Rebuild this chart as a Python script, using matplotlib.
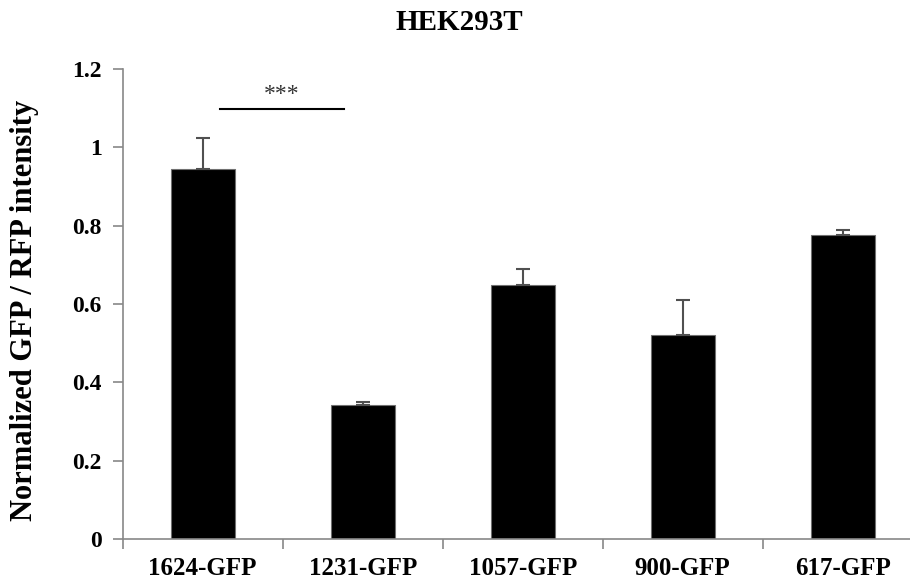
import numpy as np
import matplotlib.pyplot as plt

# ---------------------------------------------------------------------------
# Data
# ---------------------------------------------------------------------------
labels = ["1624-GFP", "1231-GFP", "1057-GFP", "900-GFP", "617-GFP"]
means = [0.944, 0.341, 0.648, 0.520, 0.775]
errors = [0.081, 0.010, 0.041, 0.090, 0.014]
y_ticks = [0, 0.2, 0.4, 0.6, 0.8, 1.0, 1.2]
y_tick_labels = ["0", "0.2", "0.4", "0.6", "0.8", "1", "1.2"]

# significance bracket between first two bars
sig_x = [0.11, 0.88]
sig_y = 1.097
sig_text = "***"

plt.rcParams["font.family"] = ["Liberation Serif", "DejaVu Serif"]

fig = plt.figure(figsize=(9.1, 5.8), dpi=100)
# axes runs past the right edge, as in the cropped original
ax = fig.add_axes([122.7 / 910, 41 / 580, 800 / 910, 470 / 580])

x = np.arange(len(labels))
ax.bar(x, means, width=0.4, color="black", edgecolor="#707070", linewidth=0.8,
       zorder=2)
ax.errorbar(x, means, yerr=[np.zeros(len(errors)), errors], fmt="none",
            ecolor="#505050", elinewidth=1.5, capsize=5, capthick=1.5, zorder=3)

ax.set_xlim(-0.5, len(labels) - 0.5)
ax.set_ylim(0, 1.2)
ax.set_yticks(y_ticks)
ax.set_yticklabels(y_tick_labels, fontsize=17, fontweight="bold")

# category ticks sit on the boundaries, labels at the centres
ax.set_xticks(np.arange(len(labels) + 1) - 0.5)
ax.set_xticklabels([])
ax.set_xticks(x, minor=True)
ax.set_xticklabels(labels, minor=True, fontsize=18, fontweight="bold")
ax.tick_params(axis="x", which="minor", length=0, pad=13)
ax.tick_params(axis="x", which="major", length=7, color="#888888", width=1.2,
               direction="out")
ax.tick_params(axis="y", length=7, color="#888888", width=1.2, direction="out",
               pad=8)

for side in ["top", "right"]:
    ax.spines[side].set_visible(False)
for side in ["left", "bottom"]:
    ax.spines[side].set_color("#888888")
    ax.spines[side].set_linewidth(1.2)

ax.plot(sig_x, [sig_y, sig_y], color="black", linewidth=1.5, zorder=3)
ax.text(np.mean(sig_x), sig_y + 0.012, sig_text, ha="center", va="bottom",
        fontsize=17, color="#333333")

ax.set_ylabel("Normalized GFP / RFP intensity", fontsize=22, fontweight="bold")
ax.yaxis.set_label_coords(-0.104, 0.487)

fig.text(0.505, 0.962, "HEK293T", ha="center", va="center", fontsize=21,
         fontweight="bold")

fig.savefig("out.png", dpi=100)
